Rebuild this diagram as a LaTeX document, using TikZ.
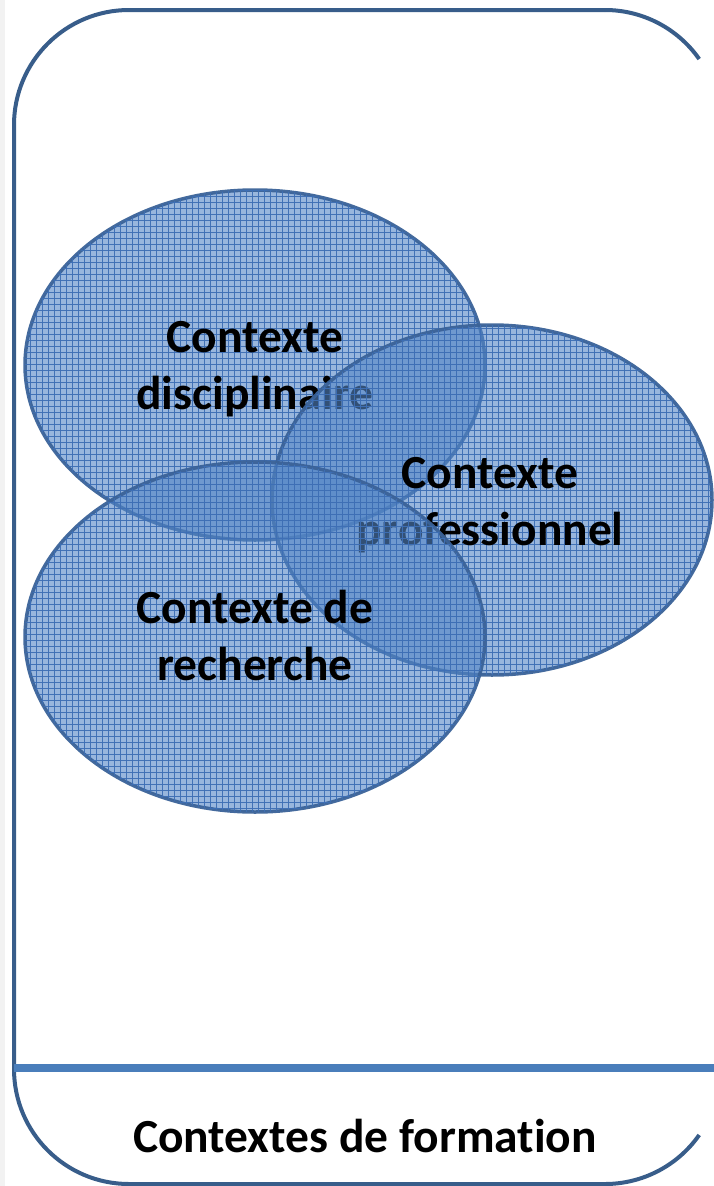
\documentclass[tikz,border=0pt]{standalone}
\usepackage{fontspec}
\setmainfont{Carlito}[Ligatures={NoCommon}]
\usetikzlibrary{shapes.geometric,patterns.meta}
\definecolor{frameblue}{HTML}{385D8A}
\definecolor{divblue}{HTML}{4A7EBB}
\definecolor{fillblue}{HTML}{5486C6}
\definecolor{gridblue}{HTML}{3E6FB5}
\definecolor{edgeblue}{HTML}{3A6298}
\definecolor{stripgray}{HTML}{F2F2F2}
\begin{document}
\begin{tikzpicture}[x=1pt,y=-1pt,
  ctx/.style={ellipse, draw=edgeblue, line width=3.5pt, fill=fillblue,
    fill opacity=0.6, draw opacity=0.95, inner sep=0pt,
    postaction={pattern={Lines[angle=0,distance=6pt,line width=0.7pt]}, pattern color=gridblue},
    postaction={pattern={Lines[angle=90,distance=6pt,line width=0.7pt]}, pattern color=gridblue}},
  lbl/.style={font=\fontsize{47.5}{58}\selectfont\bfseries, anchor=base, text=black, inner sep=0pt},
  framestyle/.style={draw=frameblue, line width=4pt},
  divstyle/.style={draw=divblue, line width=8pt}]
\useasboundingbox (0,0) rectangle (714,1186);
\fill[stripgray] (0,0) rectangle (5,1186);
\draw[framestyle] (605,10) arc[start angle=-90, end angle=-35, radius=115];
\draw[framestyle] (605,10) -- (129,10) arc[start angle=-90, end angle=-180, radius=115]
  -- (14,1069) arc[start angle=180, end angle=90, radius=115] -- (605,1184);
\draw[framestyle] (605,1184) arc[start angle=90, end angle=35, radius=115];
\coordinate (dl) at (14,1068);
\coordinate (dr) at (714,1068);
\draw[divstyle] (dl) -- (dr);
% disciplinaire
\node[ctx, minimum width=460pt, minimum height=350pt] (disc) at (255,365) {};
\node[lbl] (disc1) at (255,352) {Contexte};
\node[lbl] (disc2) at (255,409) {disciplinaire};
% professionnel
\node[ctx, minimum width=440pt, minimum height=350pt] (prof) at (492,500) {};
\node[lbl] (prof1) at (490,488) {Contexte};
\node[lbl] (prof2) at (490,545) {professionnel};
% recherche
\node[ctx, minimum width=460pt, minimum height=350pt] (rech) at (255,637) {};
\node[lbl] (rech1) at (255,623) {Contexte de};
\node[lbl] (rech2) at (255,680) {recherche};
% bottom
\node[lbl] (form) at (365,1152) {Contextes de formation};
\end{tikzpicture}
\end{document}
